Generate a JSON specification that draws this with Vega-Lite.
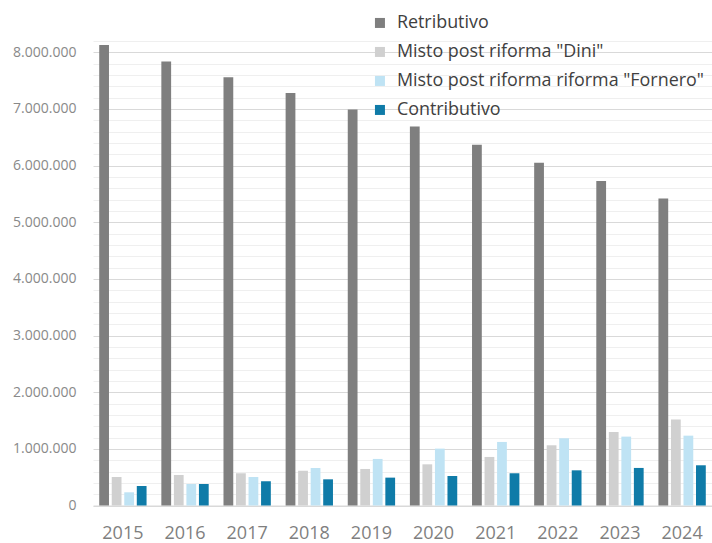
{
  "$schema": "https://vega.github.io/schema/vega-lite/v6.json",
  "autosize": {"type": "none"},
  "padding": {"left": 93, "top": 41, "right": 0, "bottom": 37.5},
  "width": 619,
  "height": 464.5,
  "background": "white",
  "config": {
    "view": {"stroke": null},
    "font": "Open Sans"
  },
  "data": {
    "values": [
      {"year": "2015", "series": "Retributivo", "value": 8130000},
      {"year": "2016", "series": "Retributivo", "value": 7840000},
      {"year": "2017", "series": "Retributivo", "value": 7560000},
      {"year": "2018", "series": "Retributivo", "value": 7280000},
      {"year": "2019", "series": "Retributivo", "value": 6990000},
      {"year": "2020", "series": "Retributivo", "value": 6690000},
      {"year": "2021", "series": "Retributivo", "value": 6370000},
      {"year": "2022", "series": "Retributivo", "value": 6050000},
      {"year": "2023", "series": "Retributivo", "value": 5730000},
      {"year": "2024", "series": "Retributivo", "value": 5420000},
      {"year": "2015", "series": "Misto post riforma \"Dini\"", "value": 503000},
      {"year": "2016", "series": "Misto post riforma \"Dini\"", "value": 539000},
      {"year": "2017", "series": "Misto post riforma \"Dini\"", "value": 569000},
      {"year": "2018", "series": "Misto post riforma \"Dini\"", "value": 615000},
      {"year": "2019", "series": "Misto post riforma \"Dini\"", "value": 645000},
      {"year": "2020", "series": "Misto post riforma \"Dini\"", "value": 727000},
      {"year": "2021", "series": "Misto post riforma \"Dini\"", "value": 857000},
      {"year": "2022", "series": "Misto post riforma \"Dini\"", "value": 1063000},
      {"year": "2023", "series": "Misto post riforma \"Dini\"", "value": 1298000},
      {"year": "2024", "series": "Misto post riforma \"Dini\"", "value": 1516000},
      {"year": "2015", "series": "Misto post riforma riforma \"Fornero\"", "value": 233000},
      {"year": "2016", "series": "Misto post riforma riforma \"Fornero\"", "value": 380000},
      {"year": "2017", "series": "Misto post riforma riforma \"Fornero\"", "value": 503000},
      {"year": "2018", "series": "Misto post riforma riforma \"Fornero\"", "value": 663000},
      {"year": "2019", "series": "Misto post riforma riforma \"Fornero\"", "value": 822000},
      {"year": "2020", "series": "Misto post riforma riforma \"Fornero\"", "value": 1004000},
      {"year": "2021", "series": "Misto post riforma riforma \"Fornero\"", "value": 1122000},
      {"year": "2022", "series": "Misto post riforma riforma \"Fornero\"", "value": 1187000},
      {"year": "2023", "series": "Misto post riforma riforma \"Fornero\"", "value": 1216000},
      {"year": "2024", "series": "Misto post riforma riforma \"Fornero\"", "value": 1233000},
      {"year": "2015", "series": "Contributivo", "value": 344000},
      {"year": "2016", "series": "Contributivo", "value": 380000},
      {"year": "2017", "series": "Contributivo", "value": 427000},
      {"year": "2018", "series": "Contributivo", "value": 462000},
      {"year": "2019", "series": "Contributivo", "value": 492000},
      {"year": "2020", "series": "Contributivo", "value": 521000},
      {"year": "2021", "series": "Contributivo", "value": 569000},
      {"year": "2022", "series": "Contributivo", "value": 621000},
      {"year": "2023", "series": "Contributivo", "value": 663000},
      {"year": "2024", "series": "Contributivo", "value": 710000}
    ]
  },
  "mark": {"type": "bar"},
  "encoding": {
    "x": {
      "field": "year",
      "type": "nominal",
      "scale": {"paddingInner": 0.238, "paddingOuter": 0.1},
      "axis": {
        "title": null,
        "labelAngle": 0,
        "labelFontSize": 18,
        "labelColor": "#7f7f7f",
        "labelPadding": 19,
        "ticks": false,
        "tickSize": 0,
        "domain": true,
        "domainColor": "#d9d9d9",
        "grid": false
      }
    },
    "xOffset": {
      "field": "series",
      "type": "nominal",
      "sort": ["Retributivo", "Misto post riforma \"Dini\"", "Misto post riforma riforma \"Fornero\"", "Contributivo"],
      "scale": {"paddingInner": 0.22, "paddingOuter": 0}
    },
    "y": {
      "field": "value",
      "type": "quantitative",
      "scale": {"domain": [0, 8200000], "nice": false, "zero": true},
      "axis": {
        "title": null,
        "values": [0, 200000, 400000, 600000, 800000, 1000000, 1200000, 1400000, 1600000, 1800000, 2000000, 2200000, 2400000, 2600000, 2800000, 3000000, 3200000, 3400000, 3600000, 3800000, 4000000, 4200000, 4400000, 4600000, 4800000, 5000000, 5200000, 5400000, 5600000, 5800000, 6000000, 6200000, 6400000, 6600000, 6800000, 7000000, 7200000, 7400000, 7600000, 7800000, 8000000, 8200000],
        "labelExpr": "datum.value % 1000000 === 0 ? replace(format(datum.value, ','), regexp(',', 'g'), '.') : ''",
        "labelFontSize": 14,
        "labelColor": "#898989",
        "labelPadding": 17,
        "ticks": false,
        "tickSize": 0,
        "domain": false,
        "grid": true,
        "gridColor": {
          "condition": {"test": "datum.value % 1000000 === 0", "value": "#d9d9d9"},
          "value": "#efefef"
        },
        "gridWidth": 1
      }
    },
    "color": {
      "field": "series",
      "type": "nominal",
      "scale": {
        "domain": ["Retributivo", "Misto post riforma \"Dini\"", "Misto post riforma riforma \"Fornero\"", "Contributivo"],
        "range": ["#7f7f7f", "#d0d0d0", "#bfe3f4", "#0f7ba8"]
      },
      "legend": {
        "title": null,
        "orient": "none",
        "legendX": 278,
        "legendY": -27,
        "symbolType": "square",
        "symbolSize": 100,
        "symbolStrokeWidth": 0,
        "labelFontSize": 17.9,
        "labelColor": "#404040",
        "labelOffset": 8,
        "labelLimit": 400,
        "rowPadding": 10,
        "padding": 0
      }
    }
  }
}
